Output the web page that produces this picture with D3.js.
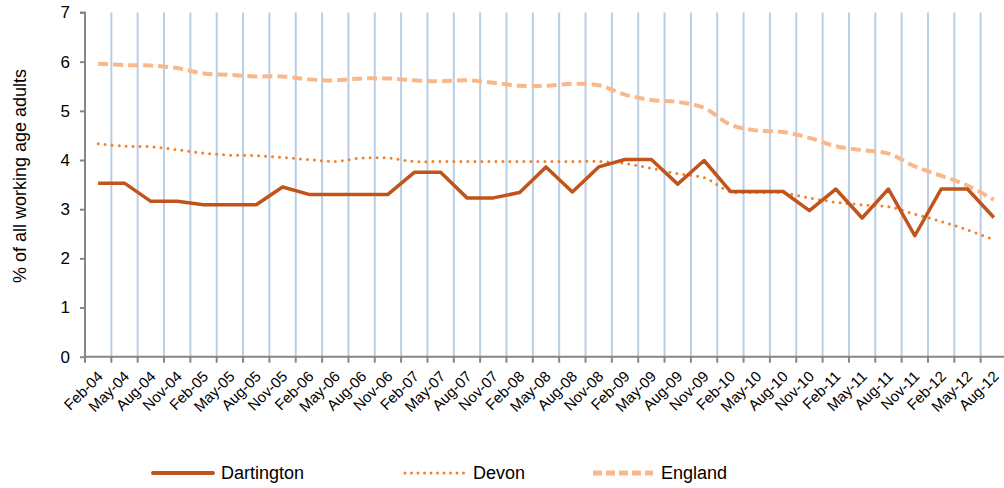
<!DOCTYPE html>
<html>
<head>
<meta charset="utf-8">
<script src="https://cdn.jsdelivr.net/npm/d3@7"></script>
<style>
  body { margin: 0; background: #fff; }
  svg text { font-family: "Liberation Sans", Arial, sans-serif; fill: #000; }
</style>
</head>
<body>
<svg id="chart" width="1004" height="488"></svg>
<script>
// quarterly labels, Feb-04 .. Aug-12
const quarters = [
  "Feb-04","May-04","Aug-04","Nov-04","Feb-05","May-05","Aug-05","Nov-05",
  "Feb-06","May-06","Aug-06","Nov-06","Feb-07","May-07","Aug-07","Nov-07",
  "Feb-08","May-08","Aug-08","Nov-08","Feb-09","May-09","Aug-09","Nov-09",
  "Feb-10","May-10","Aug-10","Nov-10","Feb-11","May-11","Aug-11","Nov-11",
  "Feb-12","May-12","Aug-12"
];

const dartington = [
  3.53, 3.53, 3.16, 3.16, 3.09, 3.09, 3.09, 3.45, 3.30, 3.30, 3.30, 3.30,
  3.75, 3.75, 3.23, 3.23, 3.34, 3.86, 3.35, 3.86, 4.01, 4.01, 3.51, 3.99,
  3.36, 3.36, 3.36, 2.97, 3.41, 2.82, 3.41, 2.46, 3.41, 3.41, 2.83
];

const devon = [
  4.33, 4.28, 4.27, 4.21, 4.14, 4.10, 4.09, 4.05, 4.01, 3.97, 4.04, 4.04,
  3.97, 3.97, 3.97, 3.97, 3.97, 3.97, 3.97, 3.97, 3.93, 3.83, 3.72, 3.64,
  3.36, 3.34, 3.33, 3.23, 3.14, 3.09, 3.05, 2.90, 2.75, 2.58, 2.38
];

const england = [
  5.96, 5.93, 5.92, 5.87, 5.76, 5.73, 5.70, 5.70, 5.64, 5.62, 5.66, 5.66,
  5.62, 5.60, 5.62, 5.57, 5.51, 5.51, 5.55, 5.52, 5.33, 5.22, 5.18, 5.06,
  4.72, 4.60, 4.57, 4.45, 4.28, 4.20, 4.13, 3.87, 3.68, 3.48, 3.19
];

const yTicks = [0, 1, 2, 3, 4, 5, 6, 7];

const seriesNames = ["Dartington", "Devon", "England"];

const svg = d3.select("#chart");

const margin = {left: 85, top: 12.5, right: 1007, bottom: 356.7};

const x = d3.scaleBand()
  .domain(quarters)
  .range([margin.left, margin.right]);

const y = d3.scaleLinear()
  .domain([0, 7])
  .range([margin.bottom, margin.top]);

// vertical gridlines at category boundaries
svg.append("g")
  .selectAll("line")
  .data(quarters.slice(1))
  .join("line")
  .attr("x1", d => x(d))
  .attr("x2", d => x(d))
  .attr("y1", y(7))
  .attr("y2", y(0))
  .attr("stroke", "#b9cde5")
  .attr("stroke-width", 2);

// y axis
const yAxis = svg.append("g")
  .attr("transform", `translate(${margin.left},0)`)
  .call(d3.axisLeft(y).tickValues(yTicks).tickSize(5).tickPadding(10).tickFormat(d3.format("d")));

yAxis.selectAll("path, line").attr("stroke", "#868686").attr("stroke-width", 2);
yAxis.select(".domain").attr("d", `M-5,${y(7)}H0V${y(0)}`);
yAxis.selectAll("text")
  .attr("font-size", 17)
  .attr("font-family", "Liberation Sans, Arial, sans-serif");

// x axis (ticks at boundaries)
const xAxisG = svg.append("g")
  .attr("transform", `translate(0,${y(0)})`);

xAxisG.append("line")
  .attr("x1", margin.left)
  .attr("x2", margin.right)
  .attr("stroke", "#868686")
  .attr("stroke-width", 2);

xAxisG.selectAll("line.tick")
  .data(quarters.concat(["end"]))
  .join("line")
  .attr("class", "tick")
  .attr("x1", (d, i) => margin.left + i * x.step())
  .attr("x2", (d, i) => margin.left + i * x.step())
  .attr("y1", 0)
  .attr("y2", 6)
  .attr("stroke", "#868686")
  .attr("stroke-width", 2);

xAxisG.selectAll("text")
  .data(quarters)
  .join("text")
  .attr("transform", d => `translate(${x(d) + x.bandwidth() / 2 + 2},${17}) rotate(-45)`)
  .attr("text-anchor", "end")
  .attr("dy", "0.35em")
  .attr("font-size", 15)
  .text(d => d);

// y axis title
svg.append("text")
  .attr("transform", `translate(26,176) rotate(-90)`)
  .attr("text-anchor", "middle")
  .attr("font-size", 18)
  .text("% of all working age adults");

// lines
const cx = (d, i) => x(quarters[i]) + x.bandwidth() / 2;

const smoothLine = d3.line()
  .x(cx)
  .y(d => y(d))
  .curve(d3.curveCatmullRom.alpha(0.5));

const straightLine = d3.line()
  .x(cx)
  .y(d => y(d));

svg.append("path")
  .datum(england)
  .attr("fill", "none")
  .attr("stroke", "#fab88a")
  .attr("stroke-width", 4)
  .attr("stroke-dasharray", "10 5")
  .attr("d", smoothLine);

svg.append("path")
  .datum(devon)
  .attr("fill", "none")
  .attr("stroke", "#f3802b")
  .attr("stroke-width", 3)
  .attr("stroke-linecap", "round")
  .attr("stroke-dasharray", "0 7")
  .attr("d", smoothLine);

svg.append("path")
  .datum(dartington)
  .attr("fill", "none")
  .attr("stroke", "#c0541a")
  .attr("stroke-width", 3.5)
  .attr("stroke-linejoin", "round")
  .attr("d", straightLine);

// legend
const legendItems = [
  {name: seriesNames[0], x: 153, stroke: "#c0541a", width: 4, dash: null, cap: "round"},
  {name: seriesNames[1], x: 405, stroke: "#f3802b", width: 3, dash: "0 6.5", cap: "round"},
  {name: seriesNames[2], x: 593, stroke: "#fab88a", width: 5, dash: "9 4", cap: "butt"}
];

const legend = svg.append("g")
  .attr("transform", "translate(0,473)");

legend.selectAll("line")
  .data(legendItems)
  .join("line")
  .attr("x1", d => d.x)
  .attr("x2", d => d.x + 60)
  .attr("stroke", d => d.stroke)
  .attr("stroke-width", d => d.width)
  .attr("stroke-dasharray", d => d.dash)
  .attr("stroke-linecap", d => d.cap);

legend.selectAll("text")
  .data(legendItems)
  .join("text")
  .attr("x", d => d.x + 68)
  .attr("dy", "0.35em")
  .attr("font-size", 18)
  .text(d => d.name);
</script>
</body>
</html>
